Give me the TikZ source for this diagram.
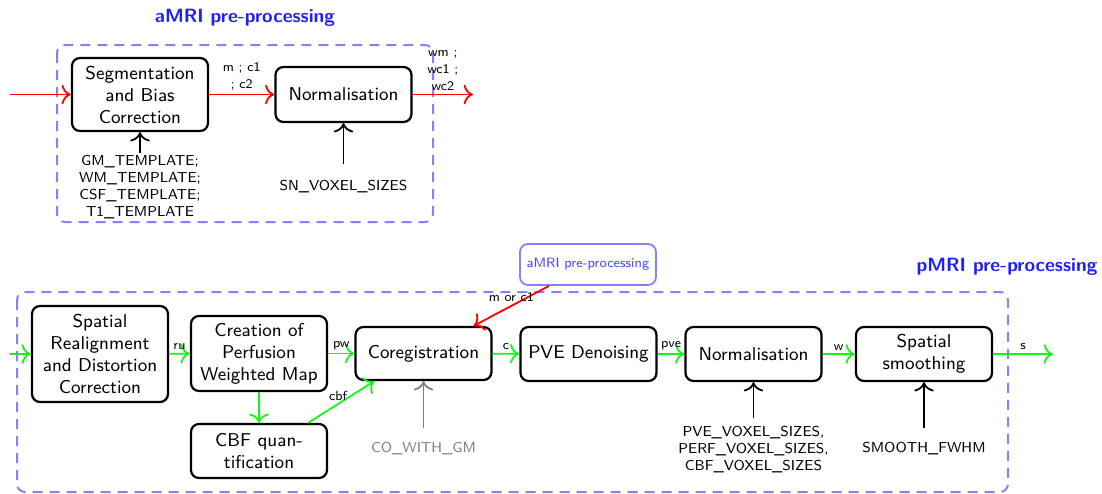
\documentclass[tikz,border=0pt]{standalone}
\usepackage{fontspec}
\usepackage{tikz}
\usetikzlibrary{arrows.meta}
\definecolor{dashblue}{RGB}{130,130,255}
\definecolor{titleblue}{RGB}{30,30,255}
\definecolor{nodeblue}{RGB}{70,70,255}
\definecolor{flowgreen}{RGB}{20,245,20}
\tikzset{
  procbox/.style={draw, line width=1.1pt, rounded corners=4pt, minimum width=68pt, align=center, inner sep=2pt, font=\fontsize{9.3}{11}\selectfont\sffamily},
  parambox/.style={align=center, inner sep=1pt, font=\fontsize{7.2}{8.5}\selectfont\sffamily},
  flowlbl/.style={inner sep=1.5pt, align=center, font=\fontsize{6.6}{8.5}\selectfont\sffamily},
  grouptitle/.style={text=titleblue, font=\fontsize{9.6}{11}\selectfont\sffamily\bfseries},
  groupframe/.style={draw=dashblue, line width=1pt, dash pattern=on 5pt off 3.5pt, rounded corners=4pt},
  redflow/.style={draw=red, line width=0.9pt, -{To[scale=1.3]}},
  greenflow/.style={draw=flowgreen, line width=0.9pt, -{To[scale=1.3]}},
  paramflow/.style={draw=black, line width=0.9pt, -{To[scale=1.3]}}
}
\begin{document}
\begin{tikzpicture}[x=0.5pt,y=0.5pt,yscale=-1,xscale=1]
    \useasboundingbox (0,0) rectangle (1102,493);

    %Shape: Rectangle [aMRI frame]
    \draw [groupframe] (57,45) rectangle (433,222);
    %Shape: Rectangle [pMRI frame]
    \draw [groupframe] (17,292) rectangle (1008,492);

    % Text Node
    \node [grouptitle] (amrititle) at (245,18) {aMRI pre-processing};
    % Text Node
    \node [grouptitle] (pmrititle) at (1007,267) {pMRI pre-processing};

    % aMRI boxes
    \node [procbox, minimum height=36.5pt] (seg) at (140,94.5) {Segmentation\\and Bias\\Correction};
    \node [procbox, minimum height=27.5pt] (anorm) at (343.5,94.5) {Normalisation};
    \node [parambox] (tmpl) at (140,187) {GM\_TEMPLATE;\\WM\_TEMPLATE;\\CSF\_TEMPLATE;\\T1\_TEMPLATE};
    \node [parambox] (snvox) at (343.5,187) {SN\_VOXEL\_SIZES};
    \coordinate (ain) at (10,94.5);
    \coordinate (aout) at (473,94.5);

    \draw [redflow] (ain) -- (seg);
    \draw [redflow] (seg) -- node [flowlbl, above] {m ; c1\\; c2} (anorm);
    \draw [redflow] (anorm) -- node [flowlbl, above] {wm ;\\wc1 ;\\wc2} (aout);
    \draw [paramflow] (tmpl) -- (seg);
    \draw [paramflow] ([yshift=-7pt]snvox.north) -- (anorm);

    % pMRI boxes
    \node [procbox, draw=dashblue, line width=0.9pt, minimum height=20.5pt, text=nodeblue, font=\fontsize{6.8}{8}\selectfont\sffamily] (amri) at (588,264.5) {aMRI pre-processing};
    \node [procbox, minimum height=48pt] (spatial) at (100,354) {Spatial\\Realignment\\and Distortion\\Correction};
    \node [procbox, minimum height=37.5pt] (pwmap) at (259,353.5) {Creation of\\Perfusion\\Weighted Map};
    \node [procbox, minimum height=27pt] (cbfq) at (259,451) {CBF quan-\\tification};
    \node [procbox, minimum height=26.5pt] (coreg) at (423.5,353.5) {Coregistration};
    \node [procbox, minimum height=27pt] (pve) at (588.5,354) {PVE Denoising};
    \node [procbox, minimum height=27pt] (pnorm) at (753.5,354) {Normalisation};
    \node [procbox, minimum height=27pt] (smooth) at (924,354) {Spatial\\smoothing};
    \node [parambox, text=gray] (cogm) at (423.5,449) {CO\_WITH\_GM};
    \node [parambox] (pvox) at (753.5,450) {PVE\_VOXEL\_SIZES,\\PERF\_VOXEL\_SIZES,\\CBF\_VOXEL\_SIZES};
    \node [parambox] (fwhm) at (924,449) {SMOOTH\_FWHM};
    \coordinate (pin) at (10,354);
    \coordinate (pout) at (1053,354);

    \draw [greenflow] (pin) -- (spatial);
    \draw [greenflow] (spatial) -- node [flowlbl, above] {ru} (pwmap);
    \draw [greenflow] (pwmap.east |- coreg) -- node [flowlbl, above] {pw} (coreg);
    \draw [greenflow] (pwmap) -- (cbfq);
    \draw [greenflow] ([xshift=-10pt]cbfq.north east) -- node [flowlbl, above, pos=0.45] {cbf} ([xshift=10pt]coreg.south west);
    \draw [redflow] ([xshift=15pt]amri.south west) -- node [flowlbl, above, pos=0.5] {m or c1} ([xshift=-9.5pt]coreg.north east);
    \draw [greenflow] (coreg) -- node [flowlbl, above] {c} (pve);
    \draw [greenflow] (pve) -- node [flowlbl, above] {pve} (pnorm);
    \draw [greenflow] (pnorm) -- node [flowlbl, above] {w} (smooth);
    \draw [greenflow] (smooth) -- node [flowlbl, above] {s} (pout);
    \draw [paramflow, draw=gray] ([yshift=-6pt]cogm.north) -- (coreg);
    \draw [paramflow] ([yshift=-3pt]pvox.north) -- (pnorm);
    \draw [paramflow] ([yshift=-6pt]fwhm.north) -- (smooth);

\end{tikzpicture}
\end{document}
